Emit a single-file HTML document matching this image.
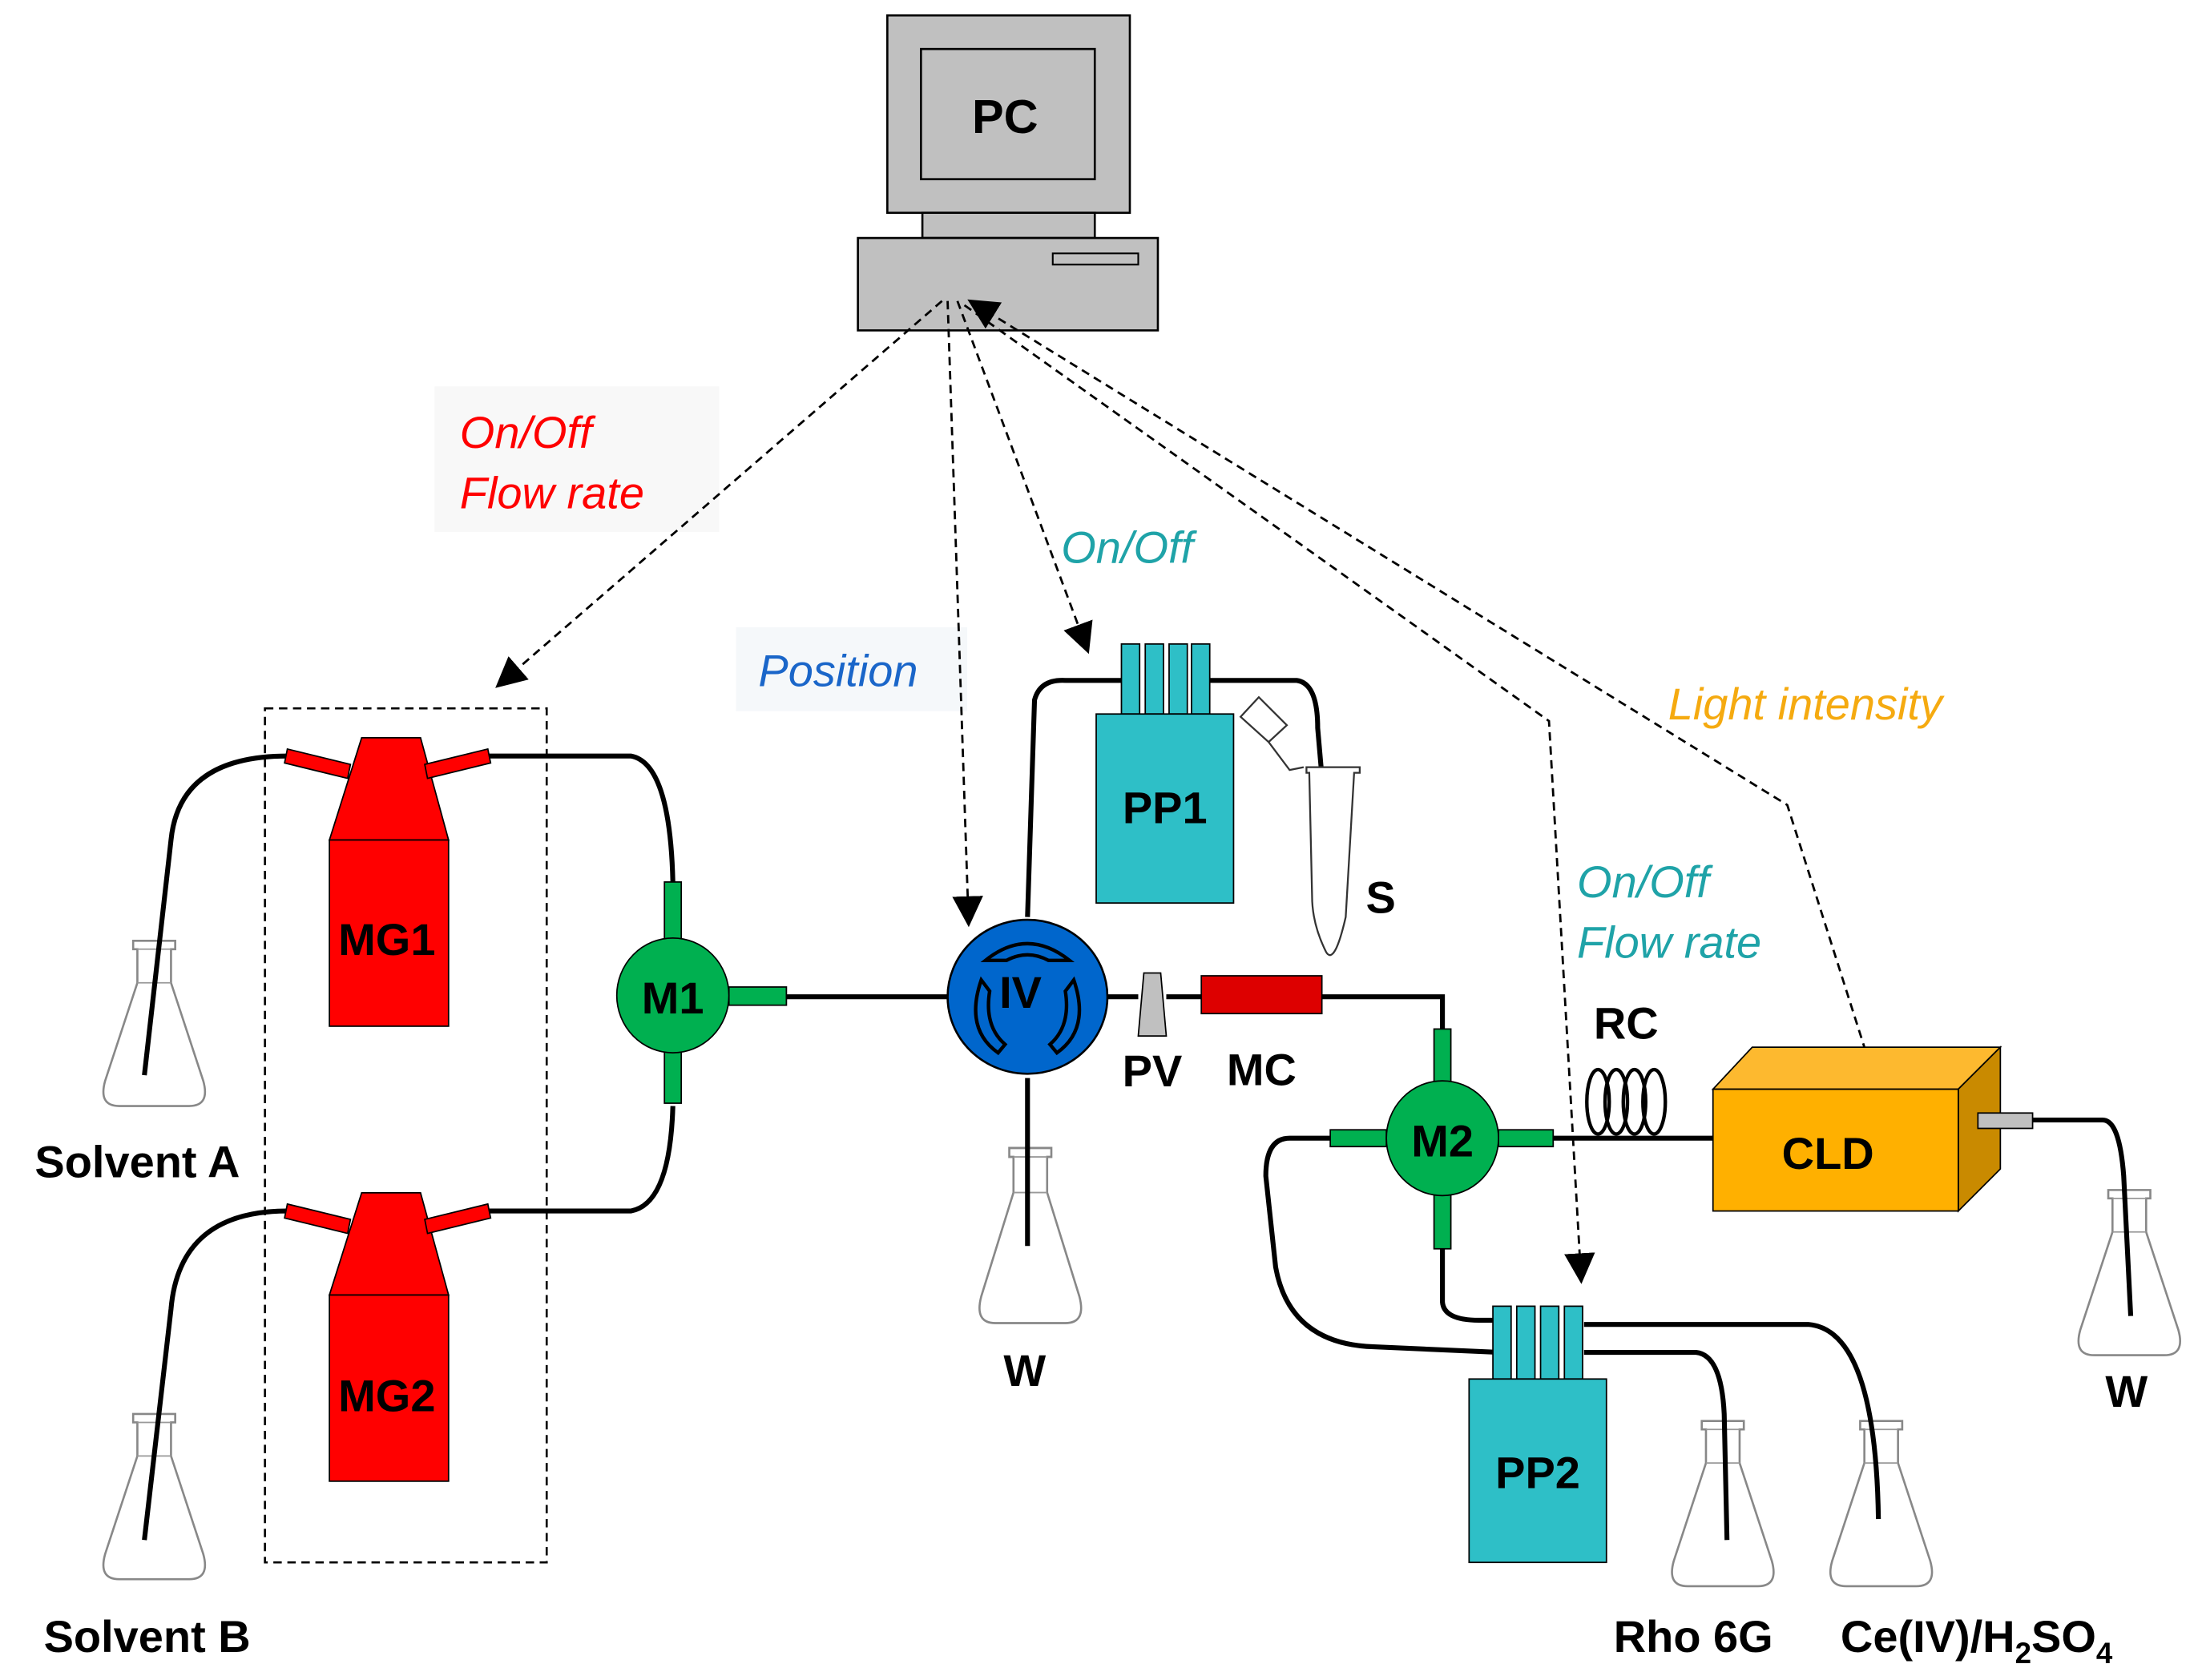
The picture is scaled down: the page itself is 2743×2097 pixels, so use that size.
<!DOCTYPE html>
<html><head><meta charset="utf-8"><style>
html,body{margin:0;padding:0;background:#fff}
svg{display:block}
text{font-family:"Liberation Sans",Arial,sans-serif}
.b{font-weight:bold;fill:#000}
.i{font-style:italic}
</style></head><body>
<svg width="2743" height="2097" viewBox="0 0 1568 1200" preserveAspectRatio="none" xmlns="http://www.w3.org/2000/svg">
<defs>
<marker id="ahb" viewBox="0 0 10 10" refX="9" refY="5" markerWidth="22" markerHeight="22" orient="auto" markerUnits="userSpaceOnUse">
<path d="M0,0 L10,5 L0,10 z" fill="#000"/></marker>
<g id="flask">
<path d="M-15,0 h30 v6 h-3 v24 L35,100 Q40,118 25,118 H-25 Q-40,118 -35,100 L-12,30 V6 h-3 z" fill="#fff" stroke="#888" stroke-width="1.5"/>
<line x1="-12" y1="6" x2="12" y2="6" stroke="#999"/>
<line x1="-12" y1="30" x2="12" y2="30" stroke="#999"/>
</g>
</defs>

<rect x="310" y="276" width="203" height="104" fill="#f8f8f8"/>
<rect x="525" y="448" width="165" height="60" fill="#f5f8fa"/>

<!-- PC -->
<rect x="633" y="11" width="173" height="141" fill="#c0c0c0" stroke="#000" stroke-width="1.5"/>
<rect x="657" y="35" width="124" height="93" fill="#c0c0c0" stroke="#000" stroke-width="1.5"/>
<text x="717" y="95" class="b" font-size="34" text-anchor="middle">PC</text>
<rect x="658" y="152" width="123" height="18" fill="#c0c0c0" stroke="#000" stroke-width="1.5"/>
<rect x="612" y="170" width="214" height="66" fill="#c0c0c0" stroke="#000" stroke-width="1.5"/>
<rect x="751" y="181" width="61" height="8" fill="#c0c0c0" stroke="#000" stroke-width="1.2"/>

<g stroke="#000" stroke-width="1.6" stroke-dasharray="6,4" fill="none">
<line x1="672" y1="215" x2="355" y2="490" marker-end="url(#ahb)"/>
<line x1="676" y1="215" x2="691" y2="660" marker-end="url(#ahb)"/>
<line x1="683" y1="215" x2="776" y2="465" marker-end="url(#ahb)"/>
<polyline points="688,218 1105,515 1128,915" marker-end="url(#ahb)"/>
<polyline points="1337,770 1275,575 692,215" marker-end="url(#ahb)"/>
</g>
<rect x="189" y="506" width="201" height="610" fill="none" stroke="#000" stroke-width="1.5" stroke-dasharray="6,4"/>

<text x="328" y="320" font-size="32" fill="#ff0000" class="i">On/Off</text>
<text x="328" y="363" font-size="32" fill="#ff0000" class="i">Flow rate</text>
<text x="541" y="490" font-size="32" fill="#1a66c9" class="i">Position</text>
<text x="757" y="402" font-size="32" fill="#1fa3a8" class="i">On/Off</text>
<text x="1190" y="514" font-size="32" fill="#f5aa10" class="i">Light intensity</text>
<text x="1125" y="641" font-size="32" fill="#1fa3a8" class="i">On/Off</text>
<text x="1125" y="684" font-size="32" fill="#1fa3a8" class="i">Flow rate</text>

<!-- flasks -->
<use href="#flask" transform="translate(110,672)"/>
<use href="#flask" transform="translate(110,1010)"/>
<use href="#flask" transform="translate(735,820) scale(1,1.06)"/>
<use href="#flask" transform="translate(1229,1015)"/>
<use href="#flask" transform="translate(1342,1015)"/>
<use href="#flask" transform="translate(1519,850)"/>

<g stroke="#000" stroke-width="3.5" fill="none">
<path d="M103,768 L122,600 Q128,540 205,540"/>
<path d="M348,540 H450 Q478,545 480,630"/>
<path d="M103,1100 L122,935 Q128,865 205,865"/>
<path d="M348,865 H450 Q478,860 480,790"/>
<path d="M561,712 H677"/>
<path d="M733,655 L738,500 Q742,485 760,486 H800"/>
<path d="M863,486 H925 Q940,488 940,520 L948,612"/>
<path d="M733,770 V890"/>
<path d="M790,712 H812"/>
<path d="M832,712 H857"/>
<path d="M943,712 H1029 V735"/>
<path d="M949,813 H920 Q903,813 903,840 L910,905 Q920,960 980,962 L1070,966"/>
<path d="M1029,892 V930 Q1030,943 1055,943 H1065"/>
<path d="M1130,946 H1290 Q1338,950 1340,1085"/>
<path d="M1130,966 H1210 Q1228,968 1230,1010 L1232,1100"/>
<path d="M1108,813 H1222"/>
<path d="M1450,800 H1500 Q1512,800 1515,840 L1520,940"/>
</g>

<g fill="#ff0000" stroke="#000" stroke-width="1">
<path d="M258,527 H300 L320,600 H235 z"/>
<rect x="235" y="600" width="85" height="133"/>
<path d="M205,535 L250,546 L248,556 L203,545 z"/>
<path d="M303,546 L348,535 L350,545 L305,556 z"/>
<path d="M258,852 H300 L320,925 H235 z"/>
<rect x="235" y="925" width="85" height="133"/>
<path d="M205,860 L250,871 L248,881 L203,870 z"/>
<path d="M303,871 L348,860 L350,870 L305,881 z"/>
</g>
<text x="276" y="682" class="b" font-size="32" text-anchor="middle">MG1</text>
<text x="276" y="1008" class="b" font-size="32" text-anchor="middle">MG2</text>

<g fill="#00b050" stroke="#000" stroke-width="1">
<rect x="474" y="630" width="12" height="42"/>
<rect x="474" y="750" width="12" height="38"/>
<rect x="520" y="705" width="41" height="13"/>
<ellipse cx="480" cy="711" rx="40" ry="41"/>
</g>
<text x="480" y="724" class="b" font-size="32" text-anchor="middle">M1</text>

<ellipse cx="733" cy="712" rx="57" ry="55" fill="#0066cc" stroke="#000" stroke-width="1.5"/>
<g fill="none" stroke="#000" stroke-width="2.5">
<path d="M703,686 Q733,662 763,686 H748 Q733,678 718,686 z"/>
<path d="M700,700 Q688,735 712,752 L717,746 Q702,733 706,708 z"/>
<path d="M766,700 Q778,735 754,752 L749,746 Q764,733 760,708 z"/>
</g>
<text x="728" y="720" class="b" font-size="32" text-anchor="middle" fill="#000">IV</text>

<g fill="#2ebfc7" stroke="#000" stroke-width="1">
<rect x="800" y="460" width="13" height="50"/><rect x="817" y="460" width="13" height="50"/>
<rect x="834" y="460" width="13" height="50"/><rect x="850" y="460" width="13" height="50"/>
<rect x="782" y="510" width="98" height="135"/>
</g>
<text x="831" y="588" class="b" font-size="32" text-anchor="middle">PP1</text>

<path d="M932,548 H970 V552 H966 L960,655 Q952,690 946,680 Q936,660 936,640 L934,552 H932 z" fill="#fff" stroke="#333" stroke-width="1.3"/>
<path d="M905,530 L920,550 L930,548" fill="none" stroke="#333" stroke-width="1.3"/>
<path d="M885,512 L898,498 L918,518 L905,530 z" fill="#fff" stroke="#333" stroke-width="1.3"/>
<text x="985" y="652" class="b" font-size="32" text-anchor="middle">S</text>

<path d="M816,695 H828 L832,740 H812 z" fill="#c0c0c0" stroke="#000" stroke-width="1"/>
<rect x="857" y="697" width="86" height="27" fill="#dd0000" stroke="#000" stroke-width="1"/>
<text x="822" y="776" class="b" font-size="32" text-anchor="middle">PV</text>
<text x="900" y="775" class="b" font-size="32" text-anchor="middle">MC</text>

<g fill="#00b050" stroke="#000" stroke-width="1">
<rect x="1023" y="735" width="12" height="38"/>
<rect x="1023" y="853" width="12" height="39"/>
<rect x="949" y="807" width="40" height="12"/>
<rect x="1069" y="807" width="39" height="12"/>
<ellipse cx="1029" cy="813" rx="40" ry="41"/>
</g>
<text x="1029" y="826" class="b" font-size="32" text-anchor="middle">M2</text>

<g fill="none" stroke="#000" stroke-width="2.5">
<ellipse cx="1140" cy="787" rx="8" ry="23"/>
<ellipse cx="1153" cy="787" rx="8" ry="23"/>
<ellipse cx="1166" cy="787" rx="8" ry="23"/>
<ellipse cx="1180" cy="787" rx="8" ry="23"/>
</g>
<text x="1160" y="742" class="b" font-size="32" text-anchor="middle">RC</text>

<path d="M1222,778 L1250,748 H1427 L1397,778 z" fill="#fdb92f" stroke="#000" stroke-width="1"/>
<path d="M1397,778 L1427,748 V835 L1397,865 z" fill="#c98a00" stroke="#000" stroke-width="1"/>
<rect x="1222" y="778" width="175" height="87" fill="#ffb000" stroke="#000" stroke-width="1"/>
<text x="1304" y="835" class="b" font-size="32" text-anchor="middle">CLD</text>
<rect x="1411" y="795" width="39" height="11" fill="#c0c0c0" stroke="#000" stroke-width="1"/>

<g fill="#2ebfc7" stroke="#000" stroke-width="1">
<rect x="1065" y="933" width="13" height="52"/><rect x="1082" y="933" width="13" height="52"/>
<rect x="1099" y="933" width="13" height="52"/><rect x="1116" y="933" width="13" height="52"/>
<rect x="1048" y="985" width="98" height="131"/>
</g>
<text x="1097" y="1063" class="b" font-size="32" text-anchor="middle">PP2</text>

<text x="98" y="841" class="b" font-size="32" text-anchor="middle">Solvent A</text>
<text x="105" y="1180" class="b" font-size="32" text-anchor="middle">Solvent B</text>
<text x="731" y="990" class="b" font-size="32" text-anchor="middle">W</text>
<text x="1517" y="1005" class="b" font-size="32" text-anchor="middle">W</text>
<text x="1208" y="1180" class="b" font-size="32" text-anchor="middle">Rho 6G</text>
<text x="1313" y="1180" class="b" font-size="32">Ce(IV)/H<tspan font-size="21" dy="8">2</tspan><tspan dy="-8">SO</tspan><tspan font-size="21" dy="8">4</tspan></text>
</svg>
</body></html>
